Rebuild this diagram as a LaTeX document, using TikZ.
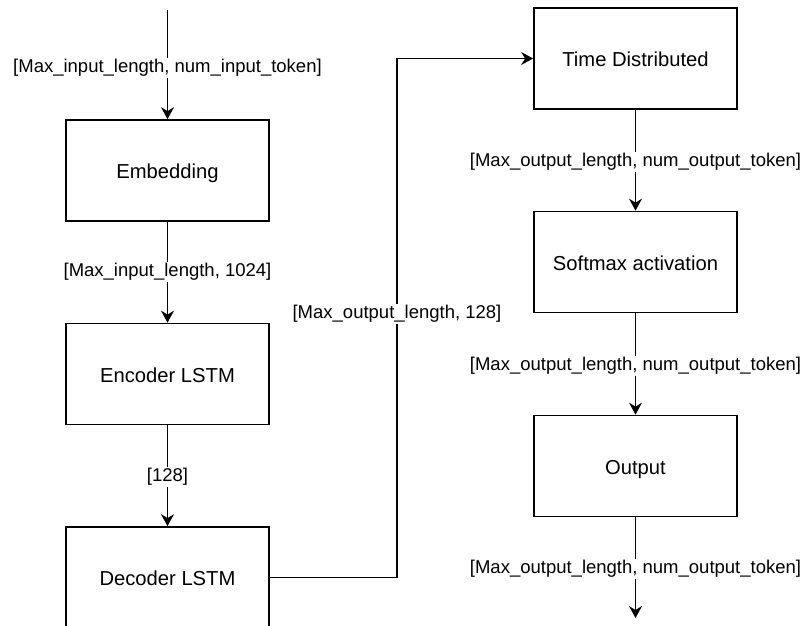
\documentclass[tikz,border=0pt]{standalone}
\usepackage{fontspec}
\setmainfont{Liberation Sans}
\usetikzlibrary{arrows.meta}
\begin{document}
\begin{tikzpicture}[x=1pt,y=-1pt,
  box/.style={draw=black, line width=1.7pt, minimum width=203pt, minimum height=101pt, inner sep=0pt, text height=18pt, text depth=1.6pt, font=\fontsize{20.2}{24}\selectfont},
  lbl/.style={fill=white, inner sep=1.5pt, font=\fontsize{18.5}{22}\selectfont},
  conn/.style={line width=1.7pt, -{Stealth[length=12pt,width=13pt,inset=4pt]}}]
\useasboundingbox (0,0) rectangle (804,626);
\clip (0,0) rectangle (804,626);
\fill[white] (0,0) rectangle (804,626);
% boxes
\node[box] (emb) at (167.5,170.5) {Embedding};
\node[box] (enc) at (167.5,374) {Encoder LSTM};
\node[box] (dec) at (167.5,577.5) {Decoder LSTM};
\node[box] (td) at (635.5,58.5) {Time Distributed};
\node[box] (sm) at (635.5,262) {Softmax activation};
\node[box] (out) at (635.5,466) {Output};
% free ends
\coordinate (in) at (167.5,10);
\coordinate (fin) at (635.5,618);
\coordinate (c1) at (397,577.5);
\coordinate (c2) at (397,58.5);
% connectors
\draw[conn] (in) -- (emb.north);
\draw[conn] (emb.south) -- (enc.north);
\draw[conn] (enc.south) -- (dec.north);
\draw[conn] (dec.east) -- (c1) -- (c2) -- (td.west);
\draw[conn] (td.south) -- (sm.north);
\draw[conn] (sm.south) -- (out.north);
\draw[conn] (out.south) -- (fin);
% labels
\node[lbl] (l1) at (167.5,68) {[Max\_input\_length, num\_input\_token]};
\node[lbl] (l2) at (167.5,272) {[Max\_input\_length, 1024]};
\node[lbl] (l3) at (167.5,477) {[128]};
\node[lbl] (l4) at (397,314) {[Max\_output\_length, 128]};
\node[lbl] (l5) at (635.5,162) {[Max\_output\_length, num\_output\_token]};
\node[lbl] (l6) at (635.5,366) {[Max\_output\_length, num\_output\_token]};
\node[lbl] (l7) at (635.5,569) {[Max\_output\_length, num\_output\_token]};
\end{tikzpicture}
\end{document}
